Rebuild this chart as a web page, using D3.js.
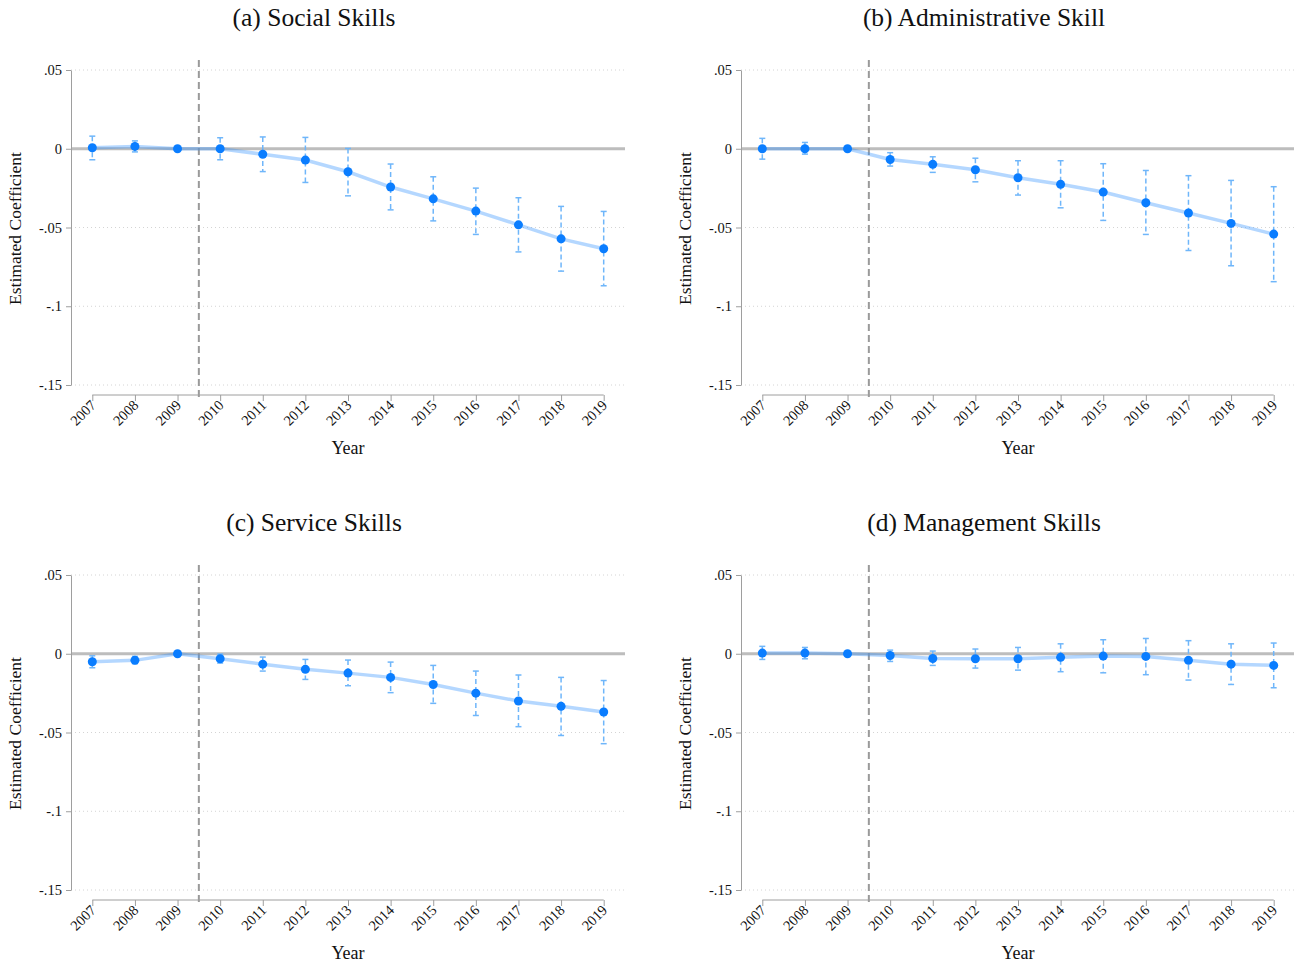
<!DOCTYPE html>
<html>
<head>
<meta charset="utf-8">
<script src="https://cdn.jsdelivr.net/npm/d3@7/dist/d3.min.js"></script>
<style>
  body { margin: 0; background: #fff; }
  svg { display: block; }
  text { font-family: "Liberation Serif", "Times New Roman", serif; fill: #111; }
</style>
</head>
<body>
<svg id="chart" width="1294" height="965"></svg>
<script>
// years on the x axis, 2009 is the reference year (no CI)
const years = [2007, 2008, 2009, 2010, 2011, 2012, 2013, 2014, 2015, 2016, 2017, 2018, 2019];

// (a) social skills
const socialCoef = [0.0006, 0.0015, 0, 0, -0.0035, -0.0072, -0.0146, -0.0243, -0.0318, -0.0396, -0.0483, -0.0572, -0.0635];
const socialHi   = [0.008, 0.005, null, 0.007, 0.0075, 0.0072, 0.0002, -0.0097, -0.0178, -0.025, -0.0311, -0.0366, -0.0398];
const socialLo   = [-0.007, -0.002, null, -0.007, -0.0145, -0.0214, -0.0299, -0.0388, -0.0458, -0.0544, -0.0655, -0.0777, -0.087];

// (b) administrative skill
const adminCoef = [0, 0, 0, -0.0068, -0.0099, -0.0133, -0.0184, -0.0226, -0.0275, -0.0343, -0.0408, -0.0474, -0.0542];
const adminHi   = [0.0066, 0.004, null, -0.0025, -0.0051, -0.006, -0.0076, -0.0076, -0.0095, -0.0138, -0.0171, -0.0201, -0.0241];
const adminLo   = [-0.0066, -0.0034, null, -0.011, -0.015, -0.021, -0.0294, -0.0375, -0.0455, -0.0544, -0.0646, -0.0743, -0.0844];

// (c) service skills
const serviceCoef = [-0.0051, -0.0042, 0, -0.0032, -0.0066, -0.0099, -0.0123, -0.015, -0.0195, -0.025, -0.030, -0.0334, -0.037];
const serviceHi   = [-0.0013, -0.0017, null, -0.0002, -0.0021, -0.0036, -0.004, -0.0053, -0.0074, -0.011, -0.0135, -0.015, -0.017];
const serviceLo   = [-0.0089, -0.0063, null, -0.0059, -0.011, -0.0163, -0.0203, -0.0247, -0.0315, -0.0392, -0.0463, -0.0519, -0.0571];

// (d) management skills
const mgmtCoef = [0.0004, 0.0004, 0, -0.0011, -0.003, -0.0032, -0.0032, -0.0023, -0.0015, -0.0017, -0.0042, -0.0066, -0.0074];
const mgmtHi   = [0.0047, 0.004, null, 0.0023, 0.0017, 0.003, 0.004, 0.0063, 0.0089, 0.0097, 0.0083, 0.0063, 0.0068];
const mgmtLo   = [-0.0036, -0.0032, null, -0.0049, -0.0074, -0.0091, -0.0104, -0.0114, -0.0121, -0.0133, -0.0167, -0.0195, -0.0216];

const panelTitles = ["(a) Social Skills", "(b) Administrative Skill", "(c) Service Skills", "(d) Management Skills"];
const yTicks = [0.05, 0, -0.05, -0.1, -0.15];
const yTickLabels = [".05", "0", "-.05", "-.1", "-.15"];
const treatYear = 2009.5;

const series = [
  {coef: socialCoef, hi: socialHi, lo: socialLo},
  {coef: adminCoef, hi: adminHi, lo: adminLo},
  {coef: serviceCoef, hi: serviceHi, lo: serviceLo},
  {coef: mgmtCoef, hi: mgmtHi, lo: mgmtLo}
];

const plotW = 554, plotH = 315;
const axisGap = 10;

const svg = d3.select('#chart');

const x = d3.scaleLinear().domain([2006.5, 2019.5]).range([0, plotW]);
const y = d3.scaleLinear().domain([-0.15, 0.05]).range([plotH, 0]);

series.forEach(function(s, i) {
  const left = 71 + (i % 2) * 670;
  const top = 70 + Math.floor(i / 2) * 505;
  const g = svg.append('g').attr('transform', 'translate(' + left + ',' + top + ')');

  // panel title, centred over the whole panel
  g.append('text')
    .attr('x', -71 + 314)
    .attr('y', -44)
    .attr('text-anchor', 'middle')
    .style('font-size', '25.5px')
    .text(panelTitles[i]);

  // dotted grid
  g.append('g').selectAll('line')
    .data(yTicks.filter(d => d !== 0))
    .enter().append('line')
    .attr('x1', 0).attr('x2', plotW)
    .attr('y1', d => y(d)).attr('y2', d => y(d))
    .attr('stroke', '#d4d4d4')
    .attr('stroke-width', 1)
    .attr('stroke-dasharray', '1,3');

  // zero line
  g.append('line')
    .attr('x1', 0).attr('x2', plotW)
    .attr('y1', y(0)).attr('y2', y(0))
    .attr('stroke', '#bdbdbd')
    .attr('stroke-width', 3);

  // treatment line
  g.append('line')
    .attr('x1', x(treatYear)).attr('x2', x(treatYear))
    .attr('y1', -10).attr('y2', plotH + axisGap + 2)
    .attr('stroke', '#9a9a9a')
    .attr('stroke-width', 2)
    .attr('stroke-dasharray', '7,4');

  // y axis
  const yAxis = g.append('g')
    .call(d3.axisLeft(y).tickValues(yTicks).tickFormat((d, k) => yTickLabels[k]).tickSize(5).tickSizeOuter(0).tickPadding(4));
  yAxis.select('.domain').attr('stroke', '#9e9e9e');
  yAxis.selectAll('.tick line').attr('stroke', '#9e9e9e');
  yAxis.selectAll('.tick text').style('font-size', '14.5px').style('font-family', '"Liberation Serif", serif').attr('fill', '#111');

  // x axis, offset below the plot
  const xAxis = g.append('g')
    .attr('transform', 'translate(0,' + (plotH + axisGap) + ')')
    .call(d3.axisBottom(x).tickValues(years).tickFormat(d3.format('d')).tickSize(6).tickSizeOuter(0));
  xAxis.select('.domain').remove();
  xAxis.append('line')
    .attr('x1', x(years[0])).attr('x2', x(years[years.length - 1]))
    .attr('stroke', '#9e9e9e');
  xAxis.selectAll('.tick line').attr('stroke', '#9e9e9e');
  xAxis.selectAll('.tick text')
    .style('font-size', '14.5px')
    .style('font-family', '"Liberation Serif", serif')
    .attr('fill', '#111')
    .attr('text-anchor', 'end')
    .attr('dy', null)
    .attr('y', 0)
    .attr('transform', 'translate(4,11) rotate(-45)');

  // axis titles
  g.append('text')
    .attr('x', plotW / 2)
    .attr('y', plotH + 69)
    .attr('text-anchor', 'middle')
    .style('font-size', '18px')
    .text('Year');

  g.append('text')
    .attr('transform', 'translate(-50,' + (y(-0.05) + 1) + ') rotate(-90)')
    .attr('text-anchor', 'middle')
    .style('font-size', '17.5px')
    .text('Estimated Coefficient');

  const pts = years.map((yr, k) => ({year: yr, coef: s.coef[k], hi: s.hi[k], lo: s.lo[k]}));

  // connecting line
  g.append('path')
    .datum(pts)
    .attr('fill', 'none')
    .attr('stroke', 'rgb(40,140,255)')
    .attr('stroke-opacity', 0.35)
    .attr('stroke-width', 3.5)
    .attr('d', d3.line().x(d => x(d.year)).y(d => y(d.coef)));

  // confidence intervals
  const ci = pts.filter(d => d.hi !== null);
  const ciG = g.append('g').attr('stroke', '#6fb6fa').attr('stroke-width', 1.5);
  ciG.selectAll('.ci').data(ci).enter().append('line')
    .attr('x1', d => x(d.year)).attr('x2', d => x(d.year))
    .attr('y1', d => y(d.hi)).attr('y2', d => y(d.lo))
    .attr('stroke-dasharray', '5,3');
  ciG.selectAll('.caphi').data(ci).enter().append('line')
    .attr('x1', d => x(d.year) - 3).attr('x2', d => x(d.year) + 3)
    .attr('y1', d => y(d.hi)).attr('y2', d => y(d.hi));
  ciG.selectAll('.caplo').data(ci).enter().append('line')
    .attr('x1', d => x(d.year) - 3).attr('x2', d => x(d.year) + 3)
    .attr('y1', d => y(d.lo)).attr('y2', d => y(d.lo));

  // point estimates
  g.append('g').selectAll('circle')
    .data(pts).enter().append('circle')
    .attr('cx', d => x(d.year))
    .attr('cy', d => y(d.coef))
    .attr('r', 4.5)
    .attr('fill', '#0a7dff');
});
</script>
</body>
</html>
